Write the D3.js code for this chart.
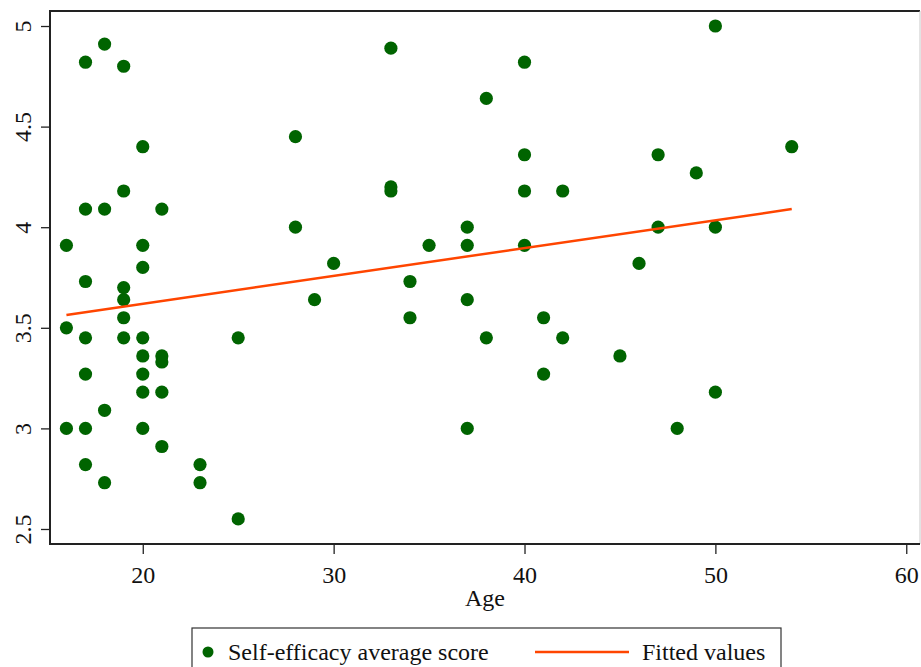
<!DOCTYPE html>
<html>
<head>
<meta charset="utf-8">
<script src="https://cdnjs.cloudflare.com/ajax/libs/d3/7.8.5/d3.min.js"></script>
<style>
  body { margin: 0; background: #fff; }
  text { font-family: "Liberation Serif", "Times New Roman", serif; fill: #111; }
</style>
</head>
<body>
<div id="chart"></div>
<script>
// ages and self-efficacy scores
var ages = [16, 16, 16,
  17, 17, 17, 17, 17, 17, 17,
  18, 18, 18, 18,
  19, 19, 19, 19, 19, 19,
  20, 20, 20, 20, 20, 20, 20, 20,
  21, 21, 21, 21, 21,
  23, 23, 25, 25, 28, 28, 29, 30,
  33, 33, 33, 34, 34, 35,
  37, 37, 37, 37, 38, 38,
  40, 40, 40, 40, 41, 41, 42, 42,
  45, 46, 47, 47, 48, 49, 50, 50, 50, 54];
var scores = [3.91, 3.5, 3.0,
  4.82, 4.09, 3.73, 3.45, 3.27, 3.0, 2.82,
  4.91, 4.09, 3.09, 2.73,
  4.8, 4.18, 3.7, 3.64, 3.55, 3.45,
  4.4, 3.91, 3.8, 3.45, 3.36, 3.27, 3.18, 3.0,
  4.09, 3.36, 3.33, 3.18, 2.91,
  2.82, 2.73, 3.45, 2.55, 4.45, 4.0, 3.64, 3.82,
  4.89, 4.2, 4.18, 3.73, 3.55, 3.91,
  4.0, 3.91, 3.64, 3.0, 4.64, 3.45,
  4.82, 4.36, 4.18, 3.91, 3.55, 3.27, 4.18, 3.45,
  3.36, 3.82, 4.36, 4.0, 3.0, 4.27, 5.0, 4.0, 3.18, 4.4];

// fitted line end points
var fitAges = [16, 54];
var fitScores = [3.564, 4.09];

var xTicks = [20, 30, 40, 50, 60];
var yTicks = [2.5, 3, 3.5, 4, 4.5, 5];

var W = 921, H = 667;
var plot = {left: 50, right: 920, top: 11, bottom: 544};

var svg = d3.select("#chart").append("svg")
  .attr("width", W)
  .attr("height", H);

var xScale = d3.scaleLinear()
  .domain([15.14, 60.72])
  .range([plot.left, plot.right]);

var yScale = d3.scaleLinear()
  .domain([2.4254, 5.0746])
  .range([plot.bottom, plot.top]);

// frame: top dark, right light
svg.append("line")
  .attr("x1", plot.left).attr("x2", plot.right)
  .attr("y1", plot.top).attr("y2", plot.top)
  .attr("stroke", "#222").attr("stroke-width", 2);
svg.append("line")
  .attr("x1", plot.right).attr("x2", plot.right)
  .attr("y1", plot.top).attr("y2", plot.bottom)
  .attr("stroke", "#c8c8c8").attr("stroke-width", 1);

// Axes
var xAxis = d3.axisBottom(xScale)
  .tickValues(xTicks)
  .tickSize(10)
  .tickFormat(d3.format("d"));
var gx = svg.append("g")
  .attr("class", "x-axis")
  .attr("transform", "translate(0," + plot.bottom + ")")
  .call(xAxis);
gx.select(".domain").remove();
gx.selectAll("line").attr("stroke", "#222").attr("stroke-width", 1.3);
gx.selectAll("text")
  .attr("font-size", "24px")
  .attr("y", 39)
  .attr("dy", null)
  .attr("fill", "#111");

var yAxis = d3.axisLeft(yScale)
  .tickValues(yTicks)
  .tickSize(9)
  .tickFormat(d3.format("~g"));
var gy = svg.append("g")
  .attr("class", "y-axis")
  .attr("transform", "translate(" + plot.left + ",0)")
  .call(yAxis);
gy.select(".domain").remove();
gy.selectAll("line").attr("stroke", "#222").attr("stroke-width", 1.3);
gy.selectAll("text")
  .attr("x", null).attr("dy", null)
  .attr("font-size", "24px")
  .attr("text-anchor", "middle")
  .attr("transform", "translate(-19,0) rotate(-90)")
  .attr("fill", "#111");

// axis lines
svg.append("line")
  .attr("x1", plot.left).attr("x2", plot.right)
  .attr("y1", plot.bottom).attr("y2", plot.bottom)
  .attr("stroke", "#222").attr("stroke-width", 2);
svg.append("line")
  .attr("x1", plot.left).attr("x2", plot.left)
  .attr("y1", plot.top - 1).attr("y2", plot.bottom + 1)
  .attr("stroke", "#222").attr("stroke-width", 2);

svg.append("text")
  .text("Age")
  .attr("x", (plot.left + plot.right) / 2)
  .attr("y", 606)
  .attr("text-anchor", "middle")
  .attr("font-size", "24px");

// points
var points = ages.map(function(a, i) { return {age: a, score: scores[i]}; });
svg.append("g").selectAll("circle")
  .data(points)
  .enter()
  .append("circle")
    .attr("cx", function(d) { return xScale(d.age); })
    .attr("cy", function(d) { return yScale(d.score); })
    .attr("r", 6.6)
    .attr("fill", "#006400");

// fitted line
var fitData = fitAges.map(function(a, i) { return [a, fitScores[i]]; });
svg.append("path")
  .datum(fitData)
  .attr("d", d3.line()
    .x(function(d) { return xScale(d[0]); })
    .y(function(d) { return yScale(d[1]); }))
  .attr("fill", "none")
  .attr("stroke", "#ff4500")
  .attr("stroke-width", 2.5);

// Legend
var legend = svg.append("g").attr("class", "legend");
legend.append("rect")
  .attr("x", 192).attr("y", 628)
  .attr("width", 589).attr("height", 60)
  .attr("fill", "#fff")
  .attr("stroke", "#333").attr("stroke-width", 1.2);
legend.append("circle")
  .attr("cx", 208).attr("cy", 652)
  .attr("r", 5.5)
  .attr("fill", "#006400");
legend.append("text")
  .text("Self-efficacy average score")
  .attr("x", 228).attr("y", 660)
  .attr("font-size", "24px");
legend.append("line")
  .attr("x1", 535).attr("x2", 629)
  .attr("y1", 652).attr("y2", 652)
  .attr("stroke", "#ff4500").attr("stroke-width", 2.5);
legend.append("text")
  .text("Fitted values")
  .attr("x", 642).attr("y", 660)
  .attr("font-size", "24px");
</script>
</body>
</html>
